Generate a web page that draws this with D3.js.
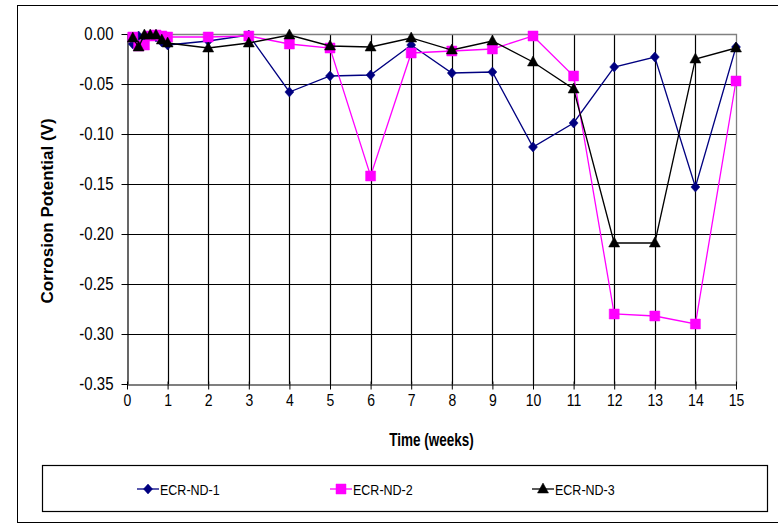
<!DOCTYPE html>
<html><head><meta charset="utf-8">
<script src="https://cdn.jsdelivr.net/npm/d3@7"></script>
<style>html,body{margin:0;padding:0;background:#fff;}svg{display:block;font-family:"Liberation Sans",Arial,sans-serif;}</style>
</head><body>
<svg id="c" width="778" height="524"></svg>
<script>
// Times in weeks (daily for first week, then weekly)
const times = [1/7, 2/7, 3/7, 4/7, 5/7, 6/7, 1, 2, 3, 4, 5, 6, 7, 8, 9, 10, 11, 12, 13, 14, 15];
const nd1 = [-0.010, -0.002, -0.004, -0.002, -0.003, -0.008, -0.011, -0.007, -0.001, -0.058, -0.042, -0.041, -0.011, -0.039, -0.038, -0.113, -0.089, -0.033, -0.023, -0.153, -0.013];
const nd2 = [-0.003, -0.012, -0.011, -0.002, -0.001, -0.002, -0.003, -0.003, -0.002, -0.010, -0.014, -0.142, -0.019, -0.017, -0.015, -0.002, -0.042, -0.280, -0.282, -0.290, -0.047];
const nd3 = [-0.004, -0.013, -0.001, -0.001, -0.001, -0.006, -0.009, -0.014, -0.009, -0.001, -0.012, -0.013, -0.004, -0.016, -0.007, -0.028, -0.055, -0.209, -0.209, -0.025, -0.014];
const seriesNames = ["ECR-ND-1", "ECR-ND-2", "ECR-ND-3"];
const xTicks = d3.range(0, 16, 1);
const yTicks = [0, -0.05, -0.10, -0.15, -0.20, -0.25, -0.30, -0.35];

const svg = d3.select("#c");
const L = 127, R = 736, T = 34, B = 384;
const x = d3.scaleLinear().domain([0, 15]).range([L, R]);
const y = d3.scaleLinear().domain([-0.35, 0]).range([B, T]);
const SY = 1.22; // vertical stretch of text, as in the reference image

// outer chart border
svg.append("rect").attr("x", 17.5).attr("y", 5.5).attr("width", 800).attr("height", 517)
  .attr("fill", "#fff").attr("stroke", "#000").attr("stroke-width", 1);

// gridlines
const g = svg.append("g");
g.selectAll(".hg").data(yTicks.slice(1, -1)).join("line")
  .attr("x1", L).attr("x2", R).attr("y1", d => Math.round(y(d)) + 0.5).attr("y2", d => Math.round(y(d)) + 0.5)
  .attr("stroke", "#000").attr("stroke-width", 1.2);
g.selectAll(".vg").data(xTicks.slice(1, -1)).join("line")
  .attr("y1", T).attr("y2", B).attr("x1", d => Math.round(x(d)) + 0.5).attr("x2", d => Math.round(x(d)) + 0.5)
  .attr("stroke", "#000").attr("stroke-width", 1.2);
// plot border top/right gray
svg.append("path").attr("d", `M${L},${T + 0.5}H${R + 0.5}V${B}`).attr("fill", "none").attr("stroke", "#808080").attr("stroke-width", 1.3);

// axes
const xAxis = d3.axisBottom(x).tickValues(xTicks).tickFormat(d3.format("d")).tickSizeInner(5).tickSizeOuter(0).tickPadding(3);
const yAxis = d3.axisLeft(y).tickValues(yTicks).tickFormat(d3.format(".2f")).tickSizeInner(6).tickSizeOuter(0).tickPadding(8);
const gx = svg.append("g").attr("transform", `translate(0,${B + 0.5})`).call(xAxis);
const gy = svg.append("g").attr("transform", `translate(${L + 0.5},0)`).call(yAxis);
[gx, gy].forEach(a => {
  a.select(".domain").attr("stroke", "#000").attr("stroke-width", 1.2);
  a.selectAll(".tick line").attr("stroke", "#000");
  a.selectAll("text").attr("fill", "#000").attr("font-family", "Liberation Sans, Arial, sans-serif")
    .attr("transform", `scale(1,${SY})`);
});
gx.selectAll("text").attr("font-size", 14);
gy.selectAll("text").attr("font-size", 15);
gx.selectAll(".tick line").attr("y1", -3);
gy.selectAll(".tick line").attr("x2", 0).attr("x1", -6);
gy.selectAll("text").text(d => d === 0 ? "0.00" : d3.format(".2f")(d).replace("−", "-"));

// axis titles
svg.append("text").attr("transform", `translate(${(L + R) / 2},446) scale(1,1.3)`).attr("text-anchor", "middle")
  .attr("font-size", 13.5).attr("font-weight", "bold").text("Time (weeks)");
svg.append("text").attr("transform", `translate(53,${(T + B) / 2 + 2}) rotate(-90)`).attr("text-anchor", "middle")
  .attr("font-size", 17).attr("font-weight", "bold").text("Corrosion Potential (V)");

// series
const colors = ["#000080", "#FF00FF", "#000000"];
const data = [nd1, nd2, nd3];
const line = d3.line().x(d => x(d[0])).y(d => y(d[1]));
function marker(sel, i) {
  if (i === 0) {
    sel.attr("d", "M0,-5L4.5,0L0,5L-4.5,0Z");
  } else if (i === 1) {
    sel.attr("d", "M-5,-5H5V5H-5Z");
  } else {
    sel.attr("d", "M0,-6L5.5,4H-5.5Z");
  }
  sel.attr("fill", colors[i]).attr("stroke", colors[i]).attr("stroke-width", 0.5);
}
data.forEach((vals, i) => {
  const pts = times.map((t, k) => [t, vals[k]]);
  const sg = svg.append("g");
  sg.append("path").datum(pts).attr("d", line).attr("fill", "none").attr("stroke", colors[i]).attr("stroke-width", 1.3);
  sg.selectAll("path.m").data(pts).join("path").attr("class", "m")
    .attr("transform", d => `translate(${x(d[0])},${y(d[1])})`).call(marker, i);
});

// legend
svg.append("rect").attr("x", 42.5).attr("y", 465.5).attr("width", 725).attr("height", 46)
  .attr("fill", "#fff").attr("stroke", "#000").attr("stroke-width", 1.2);
const legX = [137, 330, 532];
seriesNames.forEach((n, i) => {
  const lg = svg.append("g").attr("transform", `translate(${legX[i]},489)`);
  lg.append("line").attr("x1", 0).attr("x2", 22).attr("y1", 0).attr("y2", 0).attr("stroke", colors[i]).attr("stroke-width", 1.3);
  lg.append("path").attr("transform", "translate(11,0)").call(marker, i);
  lg.append("text").attr("transform", `translate(23,5.5) scale(1,${SY})`).attr("font-size", 12.5).text(n);
});
</script>
</body></html>
